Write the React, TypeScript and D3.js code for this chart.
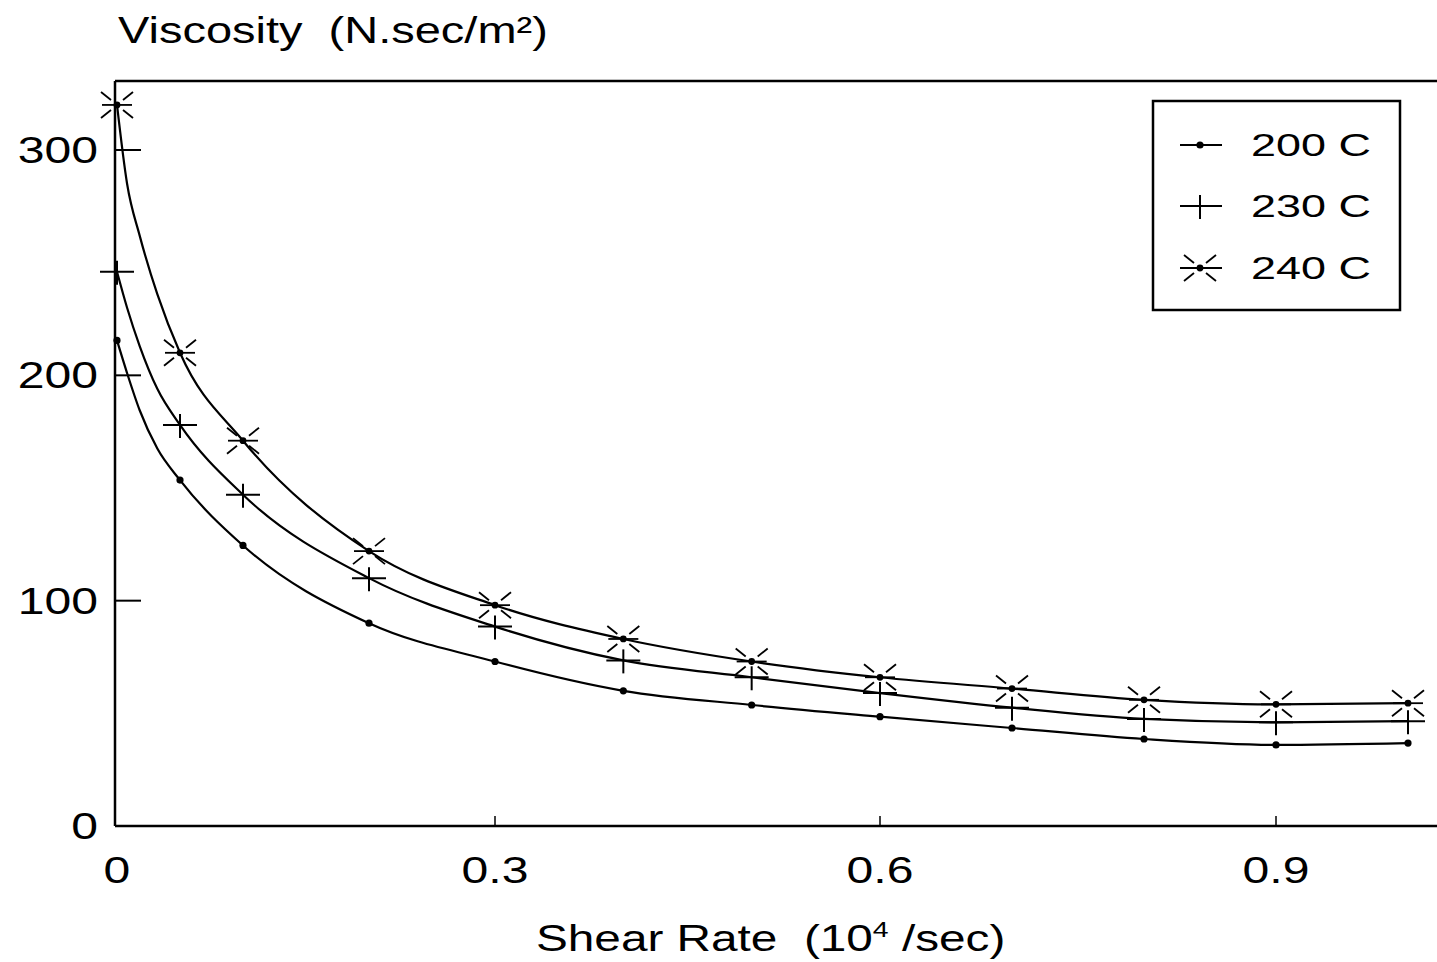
import React from "react";
import * as d3 from "d3";

// shear rate (10^4 /sec); early non-marked entries are points
const shearRate = [0, 0.008, 0.018, 0.032, 0.05, 0.1, 0.2, 0.3, 0.4, 0.5, 0.6, 0.7, 0.8, 0.9, 1.0];
const hasMarker = [true, false, false, false, true, true, true, true, true, true, true, true, true, true, true];
const visc200 = [215.5, 201, 184.5, 167.5, 153.5, 124.5, 90, 73, 60, 53.7, 48.5, 43.5, 38.6, 36, 36.8];
const visc230 = [246, 230, 213, 194, 178, 147, 110, 88.5, 73.5, 66, 59, 52.5, 47.5, 46, 46.5];
const visc240 = [320, 285, 262, 236, 210, 171, 122, 98, 83, 73, 66, 61, 56, 54, 54.5];
const seriesNames = ["200 C", "230 C", "240 C"];
const markerKinds = ["dot", "plus", "star"];
const xTicks = [0, 0.3, 0.6, 0.9];
const xTickLabels = ["0", "0.3", "0.6", "0.9"];
const yTicks = [0, 100, 200, 300];
const yTickLabels = ["0", "100", "200", "300"];

const FONT = "'Liberation Sans', Arial, Helvetica, sans-serif";

function SText({ x, y, sx = 1.3, size = 37, anchor = "start", children }: any) {
  return (
    <text
      transform={`translate(${x},${y}) scale(${sx},1)`}
      fontFamily={FONT}
      fontSize={size}
      textAnchor={anchor}
      fill="#000"
    >
      {children}
    </text>
  );
}

function Marker({ kind, x, y }: any) {
  if (kind === "dot") {
    return <circle cx={x} cy={y} r={3.6} fill="#000" />;
  }
  if (kind === "plus") {
    return (
      <g stroke="#000" strokeWidth={2}>
        <line x1={x - 17} x2={x + 17} y1={y} y2={y} />
        <line x1={x} x2={x} y1={y - 11} y2={y + 13} />
      </g>
    );
  }
  const segs = [
    [1, 1],
    [1, -1],
    [-1, 1],
    [-1, -1],
  ];
  return (
    <g stroke="#000" strokeWidth={1.8}>
      <line x1={x - 15} x2={x + 15} y1={y} y2={y} />
      {segs.map(([a, b], i) => (
        <line key={i} x1={x + a * 6} y1={y + b * 5} x2={x + a * 16} y2={y + b * 13} />
      ))}
      <circle cx={x} cy={y} r={2.5} fill="#000" />
    </g>
  );
}

export default function App() {
  const W = 1437;
  const H = 962;
  const left = 115;
  const top = 81;
  const bottom = 826;

  const x = d3.scaleLinear().domain([0, 0.3, 0.6, 0.9]).range([117, 495, 880, 1276]);
  const y = d3.scaleLinear().domain([0, 300]).range([826, 150]);

  const series = [visc200, visc230, visc240];
  const line = d3
    .line<number>()
    .x((_, i) => x(shearRate[i]))
    .y((d) => y(d))
    .curve(d3.curveMonotoneX);

  const legendRows = [145, 206, 268];

  return (
    <svg
      width={W}
      height={H}
      style={{ position: "absolute", left: 0, top: 0, background: "#fff" }}
    >
      <rect x={0} y={0} width={W} height={H} fill="#fff" />
      <g stroke="#000" strokeWidth={2.5} fill="none">
        <line x1={left} x2={W + 10} y1={top} y2={top} />
        <line x1={left} x2={W + 10} y1={bottom} y2={bottom} />
        <line x1={left} x2={left} y1={top} y2={bottom} />
      </g>
      {yTicks.map((t, i) => (
        <g key={"yt" + i}>
          {t > 0 && (
            <line x1={left} x2={left + 26} y1={y(t)} y2={y(t)} stroke="#000" strokeWidth={2} />
          )}
          <SText x={98} y={y(t) + 13} anchor="end">
            {yTickLabels[i]}
          </SText>
        </g>
      ))}
      {xTicks.map((t, i) => (
        <g key={"xt" + i}>
          {t > 0 && (
            <line x1={x(t)} x2={x(t)} y1={bottom} y2={bottom - 10} stroke="#000" strokeWidth={1.5} />
          )}
          <SText x={x(t)} y={883} anchor="middle">
            {xTickLabels[i]}
          </SText>
        </g>
      ))}
      {series.map((s, si) => (
        <path key={"c" + si} d={line(s) || ""} fill="none" stroke="#000" strokeWidth={2.2} />
      ))}
      {series.map((s, si) =>
        s.map((v, i) =>
          hasMarker[i] ? (
            <Marker key={"m" + si + "-" + i} kind={markerKinds[si]} x={x(shearRate[i])} y={y(v)} />
          ) : null
        )
      )}
      <rect x={1153} y={101} width={247} height={209} fill="#fff" stroke="#000" strokeWidth={2.5} />
      {seriesNames.map((n, i) => (
        <g key={"lg" + i}>
          <line x1={1180} x2={1222} y1={legendRows[i]} y2={legendRows[i]} stroke="#000" strokeWidth={2} />
          <Marker kind={markerKinds[i]} x={1200} y={legendRows[i]} />
          <SText x={1251} y={legendRows[i] + 11} size={31} sx={1.45}>
            {n}
          </SText>
        </g>
      ))}
      <SText x={118} y={43} size={37} sx={1.27}>
        Viscosity{"\u00a0\u00a0"}(N.sec/m²)
      </SText>
      <SText x={536} y={951} size={37} sx={1.29}>
        Shear Rate{"\u00a0\u00a0"}(10
        <tspan fontSize={22} dy={-14}>4</tspan>
        <tspan dy={14}>{"\u00a0"}/sec)</tspan>
      </SText>
    </svg>
  );
}
